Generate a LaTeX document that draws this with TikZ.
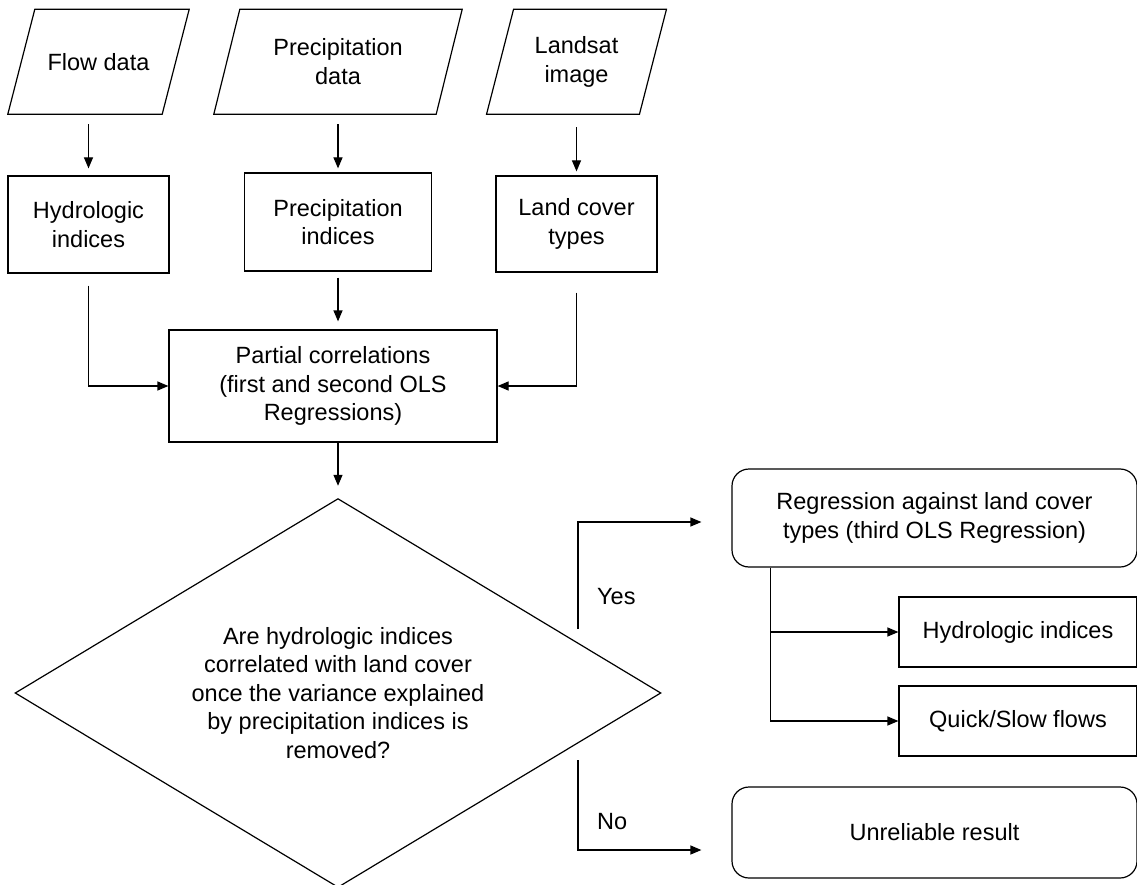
\documentclass[tikz,border=0pt]{standalone}
\usepackage{fontspec}
\setmainfont{Liberation Sans}
\usetikzlibrary{arrows.meta,calc}
\newcommand{\paragon}[2]{\draw[ln] ($(#1.south west)+(-#2,0)$) -- ($(#1.south east)+(-#2,0)$) -- ($(#1.north east)+(#2,0)$) -- ($(#1.north west)+(#2,0)$) -- cycle;}
\begin{document}
\begin{tikzpicture}[x=1pt,y=-1pt,
  every node/.style={font=\fontsize{23.5}{28.5}\selectfont, align=center, inner sep=0pt},
  ln/.style={line width=1.2pt},
  arr/.style={ln, -{Triangle[length=11pt,width=9pt]}},
  box/.style={draw, ln, rectangle},
  rbox/.style={box, rounded corners=17pt},
  io/.style={rectangle}]
\useasboundingbox (0,0) rectangle (1137,885);
% inputs
\node[io, minimum width=154pt, minimum height=104.5pt] (flow) at (98.5,61.75) {Flow data};
\node[io, minimum width=222pt, minimum height=104.5pt] (pdata) at (338,61.75) {Precipitation\\data};
\node[io, minimum width=152.5pt, minimum height=104.5pt] (land) at (576.5,61.75) {Landsat\\image};
\paragon{flow}{13.5}
\paragon{pdata}{13}
\paragon{land}{13.5}
% boxes
\node[box, minimum width=161pt, minimum height=97pt] (hydro) at (88.5,224.5) {Hydrologic\\indices};
\node[box, minimum width=187pt, minimum height=98pt] (pind) at (338,222) {Precipitation\\indices};
\node[box, minimum width=161pt, minimum height=96pt] (lc) at (576.5,224) {Land cover\\types};
\node[box, minimum width=328pt, minimum height=112pt] (part) at (333,386) {Partial correlations\\(first and second OLS\\Regressions)};
% decision
\node[io, minimum width=645pt, minimum height=388pt] (dec) at (338,693) {Are hydrologic indices\\correlated with land cover\\once the variance explained\\by precipitation indices is\\removed?};
\draw[ln] (dec.north) -- (dec.east) -- (dec.south) -- (dec.west) -- cycle;
\node[rbox, minimum width=405pt, minimum height=98pt] (reg) at (934.5,518) {Regression against land cover\\types (third OLS Regression)};
\node[box, minimum width=238pt, minimum height=70pt] (hi) at (1018,632) {Hydrologic indices};
\node[box, minimum width=238pt, minimum height=70pt] (qs) at (1018,721) {Quick/Slow flows};
\node[rbox, minimum width=405pt, minimum height=91pt] (unr) at (934.5,832.5) {Unreliable result};
% labels
\node[anchor=west] (yes) at (597,597) {Yes};
\node[anchor=west] (no) at (597,822) {No};
% connectors
\draw[arr] ($(hydro.north |- flow.south)+(0,10)$) -- ($(hydro.north)+(0,-7)$);
\draw[arr] ($(pind.north |- pdata.south)+(0,10)$) -- ($(pind.north)+(0,-4)$);
\draw[arr] ($(lc.north |- land.south)+(0,13)$) -- ($(lc.north)+(0,-4)$);
\draw[arr] ($(hydro.south)+(0,12)$) |- (part.west);
\draw[arr] ($(pind.south)+(0,6)$) -- ($(pind.south |- part.north)+(0,-8)$);
\draw[arr] ($(lc.south)+(0,20)$) |- (part.east);
\draw[arr] (dec.north |- part.south) -- ($(dec.north)+(0,-13)$);
\coordinate (ya) at (578,629);
\coordinate (na) at (578,760);
\draw[arr] (ya) |- ($(reg.west)+(-30,4)$);
\draw[arr] (na) |- ($(unr.west)+(-30,17.5)$);
\coordinate (br) at ($(reg.south west)+(39,0)$);
\draw[arr] (br) |- (hi.west);
\draw[arr] (br) |- (qs.west);
\end{tikzpicture}
\end{document}
